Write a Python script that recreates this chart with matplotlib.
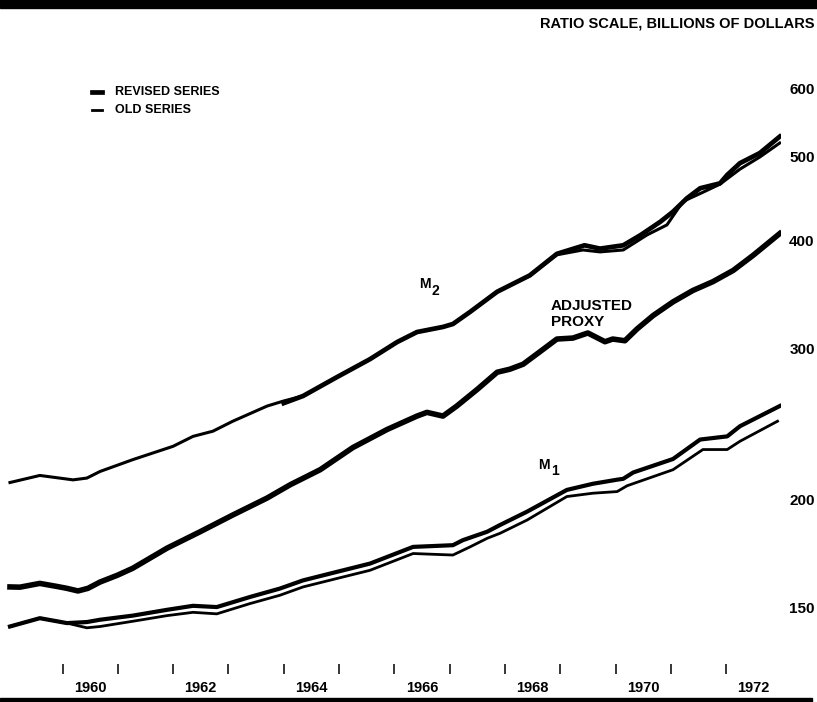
import matplotlib.pyplot as plt
from matplotlib.patches import Rectangle
from matplotlib.lines import Line2D

# money stock series (decimal year, billions of dollars)
m2_old_t = [1959.05, 1959.59, 1960.19, 1960.44, 1960.68, 1961.27, 1962.0, 1962.36, 1962.72,
            1963.08, 1963.70, 1964.0, 1964.35, 1964.96, 1965.56, 1966.05, 1966.41, 1966.88,
            1967.06, 1967.37, 1967.86, 1968.45, 1968.94, 1969.41, 1969.72, 1970.14, 1970.57,
            1970.93, 1971.22, 1971.58, 1971.89, 1972.25, 1972.61, 1972.97]
m2_old = [209.5, 213.5, 211, 212, 215.8, 222.7, 230.8, 237, 240.3,
          246.8, 257, 260.5, 264, 277.6, 291.3, 304.9, 313.2, 317.5,
          320, 330.5, 348.8, 364, 385, 390, 388, 390, 406,
          417, 444, 455, 465, 484, 500, 519]

m2_rev_t = [1964.0, 1964.35, 1964.96, 1965.56, 1966.05, 1966.41, 1966.88, 1967.06, 1967.37,
            1967.86, 1968.45, 1968.94, 1969.44, 1969.72, 1970.14, 1970.45, 1970.81, 1971.04,
            1971.29, 1971.53, 1971.89, 1972.02, 1972.25, 1972.61, 1972.97]
m2_rev = [259, 264, 277.6, 291.3, 304.9, 313.2, 317.5, 320, 330.5,
          348.8, 364.4, 386, 394.9, 391.4, 394.9, 405.7, 420.5, 432,
          447.7, 459.9, 466, 476.6, 491.8, 505.3, 528]

proxy_t = [1959.05, 1959.23, 1959.41, 1959.59, 1959.90, 1960.08, 1960.28, 1960.46, 1960.68,
           1960.99, 1961.27, 1961.89, 1962.49, 1963.08, 1963.70, 1964.12, 1964.66, 1965.25,
           1965.87, 1966.41, 1966.59, 1966.88, 1967.13, 1967.50, 1967.86, 1968.09, 1968.33,
           1968.69, 1968.94, 1969.23, 1969.50, 1969.81, 1969.95, 1970.17, 1970.39, 1970.68,
           1971.04, 1971.40, 1971.76, 1972.13, 1972.49, 1972.97]
proxy = [158.5, 158.4, 159.2, 160, 158.7, 157.9, 156.8, 157.9, 160.6,
         163.5, 166.6, 175.8, 183.7, 192.1, 201, 208.3, 216.8, 230,
         241.4, 250.2, 252.7, 250.2, 257, 268.7, 281.3, 283.6, 287.4,
         299, 307.4, 308.2, 312.4, 305.2, 307.4, 306, 315.8, 327.3,
         339.5, 350, 358.3, 369.3, 384.5, 407.5]

m1_rev_t = [1959.05, 1959.59, 1960.08, 1960.44, 1960.68, 1961.27, 1961.89, 1962.36, 1962.79,
            1963.39, 1963.93, 1964.35, 1964.96, 1965.56, 1966.34, 1967.06, 1967.24, 1967.68,
            1967.91, 1968.40, 1969.12, 1969.59, 1970.03, 1970.14, 1970.32, 1971.04, 1971.53,
            1972.02, 1972.25, 1972.97]
m1_rev = [142.6, 145.8, 143.9, 144.3, 145.2, 146.8, 149.1, 150.7, 150.2,
          154.3, 157.8, 161.3, 165, 168.7, 176.4, 177.2, 179.6, 183.7,
          187, 193.8, 205.4, 208.8, 211.1, 211.6, 215.2, 223.1, 235,
          237, 243.5, 257]

m1_old_t = [1959.05, 1959.59, 1960.08, 1960.44, 1960.68, 1961.27, 1961.89, 1962.36, 1962.79,
            1963.39, 1963.93, 1964.35, 1964.96, 1965.56, 1966.34, 1967.06, 1967.37, 1967.68,
            1967.91, 1968.40, 1969.12, 1969.59, 1970.03, 1970.21, 1971.04, 1971.58, 1972.02,
            1972.25, 1972.93]
m1_old = [142.6, 145.8, 143.9, 142.1, 142.6, 144.6, 146.8, 148.1, 147.5,
          151.6, 155, 158.5, 162.1, 165.7, 173.3, 172.6, 176.4, 180.5,
          182.9, 189.5, 201.8, 203.6, 204.5, 207.7, 216.8, 228.8, 228.8,
          233.9, 246.8]

y_ticks = [150, 200, 300, 400, 500, 600]
tick_years = list(range(1960, 1973))
label_years = [1960, 1962, 1964, 1966, 1968, 1970, 1972]

FONT = ['Liberation Sans Narrow', 'Liberation Sans']
W, H = 817, 702


def fx(x):
    return x / W


def fy(y):
    return 1 - y / H


fig = plt.figure(figsize=(W / 100, H / 100), dpi=100)
ax = fig.add_axes([fx(7.2), fy(664), fx(781.4) - fx(7.2), fy(30) - fy(664)])

ax.plot(m2_old_t, m2_old, color='black', lw=2.2)
ax.plot(m2_rev_t, m2_rev, color='black', lw=3.4)
ax.plot(proxy_t, proxy, color='black', lw=4.0)
ax.plot(m1_old_t, m1_old, color='black', lw=2.0)
ax.plot(m1_rev_t, m1_rev, color='black', lw=3.0)

ax.set_yscale('log')
ax.set_ylim(129, 702)
ax.set_xlim(1959, 1973)
for s in ax.spines.values():
    s.set_visible(False)

ax.yaxis.tick_right()
ax.set_yticks(y_ticks)
ax.set_yticks([], minor=True)
ax.set_yticklabels([str(v) for v in y_ticks], fontfamily=FONT, fontweight='bold',
                   fontsize=11, ha='right')
ax.tick_params(axis='y', which='both', length=0, pad=24)

ax.set_xticks(tick_years)
ax.set_xticklabels([])
ax.set_xticks([y + 0.5 for y in label_years], minor=True)
ax.set_xticklabels([str(y) for y in label_years], minor=True,
                   fontfamily=FONT, fontweight='bold', fontsize=10.5)
ax.tick_params(axis='x', which='major', length=7, width=1.1, direction='out')
ax.tick_params(axis='x', which='minor', length=0, pad=12)

# curve labels
fig.text(fx(419), fy(284), 'M', fontfamily=FONT, fontweight='bold', fontsize=10, ha='left', va='center')
fig.text(fx(432), fy(291), '2', fontfamily=FONT, fontweight='bold', fontsize=10, ha='left', va='center')
fig.text(fx(551), fy(306), 'ADJUSTED', fontfamily=FONT, fontweight='bold', fontsize=11, ha='left', va='center')
fig.text(fx(551), fy(322), 'PROXY', fontfamily=FONT, fontweight='bold', fontsize=11, ha='left', va='center')
fig.text(fx(538), fy(465), 'M', fontfamily=FONT, fontweight='bold', fontsize=10, ha='left', va='center')
fig.text(fx(551), fy(471), '1', fontfamily=FONT, fontweight='bold', fontsize=10, ha='left', va='center')

# legend
fig.add_artist(Line2D([fx(92), fx(102)], [fy(91.7), fy(91.7)], color='black', lw=3.4))
fig.add_artist(Line2D([fx(92), fx(102)], [fy(110), fy(110)], color='black', lw=2.0))
fig.text(fx(115), fy(91.7), 'REVISED SERIES', fontfamily=FONT, fontweight='bold', fontsize=9, ha='left', va='center')
fig.text(fx(115), fy(110), 'OLD SERIES', fontfamily=FONT, fontweight='bold', fontsize=9, ha='left', va='center')

# header and rules
fig.add_artist(Rectangle((0, fy(8)), 1, 8 / H, transform=fig.transFigure, color='black'))
fig.add_artist(Rectangle((0, 0), fx(812), 4 / H, transform=fig.transFigure, color='black'))
fig.text(fx(815), fy(23), 'RATIO SCALE, BILLIONS OF DOLLARS', fontfamily=FONT, fontweight='bold',
         fontsize=10.5, ha='right', va='center')

fig.savefig('out.png', dpi=100)
